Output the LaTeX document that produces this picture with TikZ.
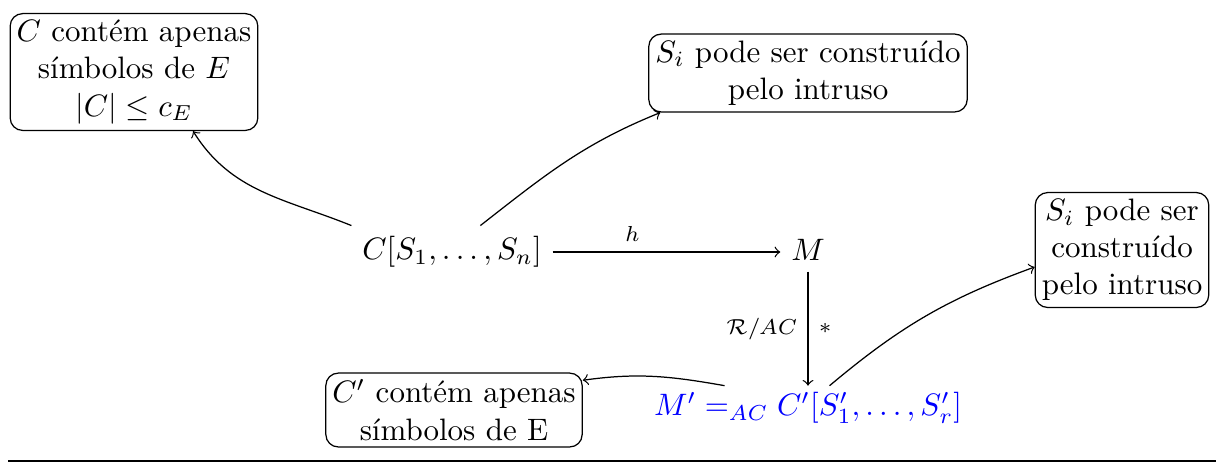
\documentclass[tikz,border=0pt]{standalone}
\usepackage{amsmath,amssymb}
\begin{document}
\begin{tikzpicture}[x=0.3226pt,y=-0.3226pt,
  infobox/.style={draw,rounded corners=4pt,align=center,inner sep=2.1pt},
  lbl/.style={font=\scriptsize},
  conn/.style={->}]
\useasboundingbox (0,0) rectangle (1224,463);
\node[infobox] (box1) at (134,72) {$C$ contém apenas\\símbolos de $E$\\$|C|\le c_E$};
\node[infobox] (box2) at (808,73) {$S_i$ pode ser construído\\pelo intruso};
\node[infobox] (box4) at (1122,250) {$S_i$ pode ser\\construído\\pelo intruso};
\node[infobox] (box3) at (454,410) {$C'$ contém apenas\\símbolos de E};
\node (cs) at (452,252) {$C[S_1,\dots,S_n]$};
\node (M) at (808,250) {$M$};
\node[text=blue,inner sep=2pt] (Mp) at (808,408) {$M' =_{AC} C'[S'_1,\dots,S'_r]$};
\draw[conn] (cs.east) -- (M.west |- cs.east) node[lbl,pos=0.35,above] {$h$};
\draw[conn] (M.south) -- (M |- Mp.north)
  node[lbl,midway,left] {$\mathcal{R}/AC$}
  node[lbl,midway,right] {$*$};
\draw[conn] (cs.north west) to[out=158,in=-58] (box1.-45);
\draw[conn] (cs.43) to[out=38,in=202] (box2.195);
\draw[conn] (Mp.165) to[out=170,in=8] (box3.13);
\draw[conn] (Mp.46) to[out=40,in=200] (box4.191);
\coordinate (ruleL) at (8,461);
\coordinate (ruleR) at (1216,461);
\draw[line width=0.5pt] (ruleL) -- (ruleR);
\end{tikzpicture}
\end{document}
